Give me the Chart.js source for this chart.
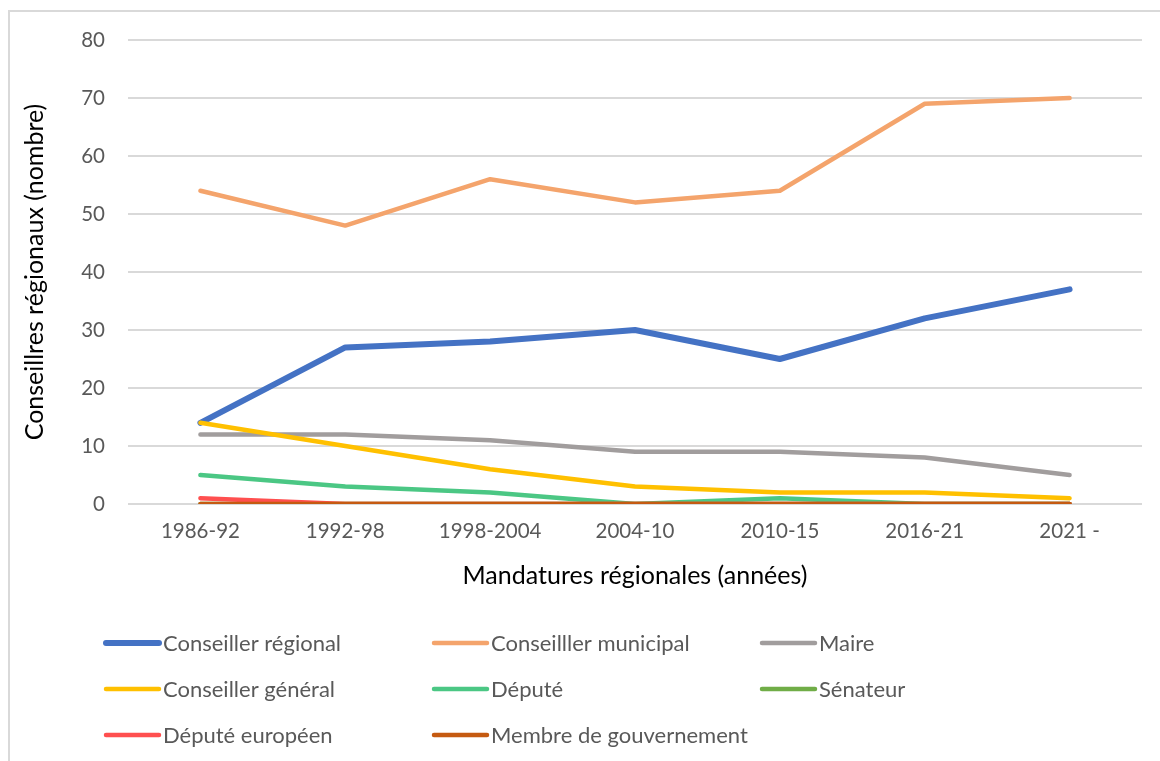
<!DOCTYPE html>
<html><head><meta charset="utf-8">
<script src="https://cdn.jsdelivr.net/npm/chart.js@4"></script>
<style>
html,body{margin:0;padding:0;background:#fff;}
#wrap{position:relative;width:1160px;height:761px;}
#frame{position:absolute;left:8px;top:10px;width:1200px;height:800px;border-left:2px solid #d9d9d9;border-top:2px solid #d9d9d9;box-sizing:border-box;}
canvas{position:absolute;left:0;top:0;}
</style></head>
<body><div id="wrap"><div id="frame"></div><canvas id="c" width="1160" height="761"></canvas></div>
<script>
const categories = ["1986-92","1992-98","1998-2004","2004-10","2010-15","2016-21","2021 -"];
const seriesNames = ["Conseiller régional","Conseilller municipal","Maire","Conseiller général","Député","Sénateur","Député européen","Membre de gouvernement"];
const conseillerRegional = [14,27,28,30,25,32,37];
const conseillerMunicipal = [54,48,56,52,54,69,70];
const maire = [12,12,11,9,9,8,5];
const conseillerGeneral = [14,10,6,3,2,2,1];
const depute = [5,3,2,0,1,0,0];
const senateur = [0,0,0,0,0,0,0];
const deputeEuropeen = [1,0,0,0,0,0,0];
const membreGouvernement = [0,0,0,0,0,0,0];
const yTicks = [0,10,20,30,40,50,60,70,80];
const yTitle = "Conseillres régionaux (nombre)";
const xTitle = "Mandatures régionales (années)";

const colors = ["#4472C4","#F4A46C","#A19D9D","#FFC000","#4BC784","#70AD47","#FF4F4F","#C55A11"];
const widths = [6,4.5,4.5,4.5,4.5,4.5,4.5,4.5];
const values = [conseillerRegional,conseillerMunicipal,maire,conseillerGeneral,depute,senateur,deputeEuropeen,membreGouvernement];
const FONT = "Lato";

const datasets = seriesNames.map((n,i)=>({
  label:n, data:values[i], borderColor:colors[i], backgroundColor:colors[i],
  borderWidth:widths[i], pointRadius:0, tension:0, borderCapStyle:'round', borderJoinStyle:'round',
  order: seriesNames.length - i
}));

const legendCols = [103,431,759], legendRows = [643,689,735];

const extrasPlugin = {
  id:'extras',
  afterDraw(chart){
    const ctx = chart.ctx, ca = chart.chartArea;
    ctx.save();
    ctx.fillStyle='#000'; ctx.textAlign='center'; ctx.textBaseline='middle';
    ctx.font='25px '+FONT;
    ctx.fillText(xTitle,(ca.left+ca.right)/2,576);
    ctx.translate(35,(ca.top+ca.bottom)/2);
    ctx.rotate(-Math.PI/2);
    ctx.fillText(yTitle,0,0);
    ctx.setTransform(1,0,0,1,0,0);
    chart.data.datasets.forEach((ds,i)=>{
      const x=legendCols[i%3], y=legendRows[Math.floor(i/3)];
      ctx.strokeStyle=ds.borderColor; ctx.lineWidth=ds.borderWidth; ctx.lineCap='round';
      ctx.beginPath(); ctx.moveTo(x+3,y); ctx.lineTo(x+56,y); ctx.stroke();
      ctx.fillStyle='#595959'; ctx.font='22px '+FONT; ctx.textBaseline='middle'; ctx.textAlign='left';
      ctx.fillText(ds.label,x+60,y+1);
    });
    ctx.restore();
  }
};

new Chart(document.getElementById('c'),{
  type:'line',
  data:{labels:categories,datasets},
  options:{
    responsive:false, animation:false,
    layout:{padding:{top:40,right:18,left:0,bottom:0}},
    plugins:{legend:{display:false},tooltip:{enabled:false}},
    scales:{
      x:{
        offset:true,
        grid:{display:false,drawTicks:false},
        border:{display:false},
        ticks:{color:'#595959',font:{family:FONT,size:20.5},padding:15,maxRotation:0},
        afterFit(s){s.height=257;}
      },
      y:{
        min:0,max:80,
        afterBuildTicks(s){s.ticks=yTicks.map(v=>({value:v}));},
        grid:{color:'#d9d9d9',lineWidth:2,drawTicks:false},
        border:{display:false},
        ticks:{color:'#595959',font:{family:FONT,size:20.5},padding:23},
        afterFit(s){s.width=128;}
      }
    }
  },
  plugins:[extrasPlugin]
});
</script></body></html>
